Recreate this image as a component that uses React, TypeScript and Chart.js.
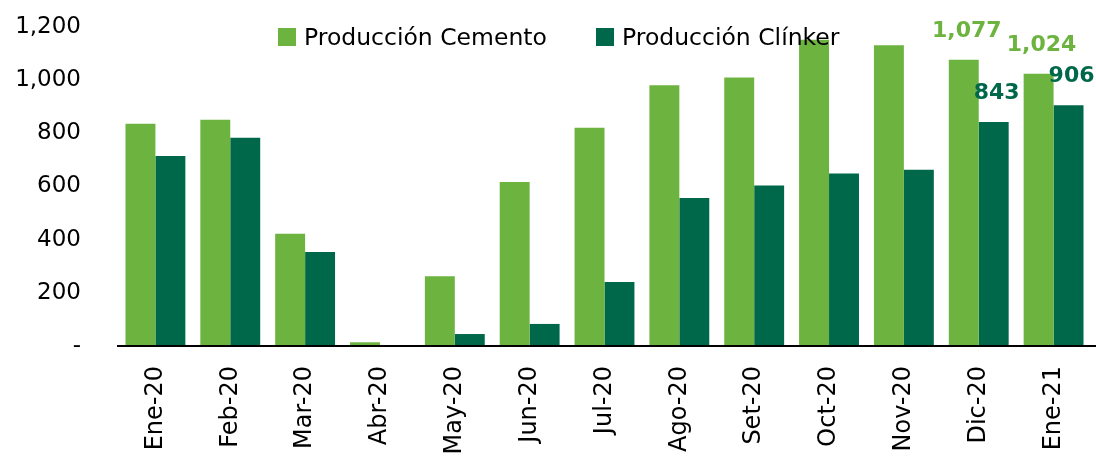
import React, { useEffect, useRef } from "react";
import { Chart, registerables } from "chart.js";

Chart.register(...registerables);

const categories = ["Ene-20", "Feb-20", "Mar-20", "Abr-20", "May-20", "Jun-20", "Jul-20", "Ago-20", "Set-20", "Oct-20", "Nov-20", "Dic-20", "Ene-21"];
const cemento = [836, 851, 422, 14, 262, 617, 821, 981, 1010, 1152, 1131, 1077, 1024];
const clinker = [715, 783, 354, 0, 45, 83, 241, 557, 604, 649, 663, 843, 906];
const labeledIndices = [11, 12];
const seriesNames = ["Producción Cemento", "Producción Clínker"];
const seriesColors = ["#6DB33F", "#00684A"];
const yTicks = [0, 200, 400, 600, 800, 1000, 1200];

const FONT = "'DejaVu Sans', sans-serif";

const fmt = (v: number) => (v === 0 ? "-" : v.toLocaleString("en-US"));

const overlayPlugin = {
  id: "overlay",
  afterDatasetsDraw(chart: any) {
    const { ctx, chartArea } = chart;
    ctx.save();
    // axis line
    ctx.strokeStyle = "#000000";
    ctx.lineWidth = 2;
    ctx.beginPath();
    ctx.moveTo(chartArea.left - 1, chartArea.bottom);
    ctx.lineTo(chart.width, chartArea.bottom);
    ctx.stroke();

    // legend
    const legendX = [278, 596];
    ctx.font = `23.5px ${FONT}`;
    ctx.textBaseline = "alphabetic";
    ctx.textAlign = "left";
    chart.data.datasets.forEach((ds: any, i: number) => {
      ctx.fillStyle = ds.backgroundColor;
      ctx.fillRect(legendX[i], 28, 18, 18);
      ctx.fillStyle = "#000000";
      ctx.fillText(ds.label, legendX[i] + 26, 45);
    });

    // data labels
    ctx.font = `bold 22px ${FONT}`;
    ctx.textAlign = "center";
    chart.data.datasets.forEach((ds: any, i: number) => {
      const meta = chart.getDatasetMeta(i);
      labeledIndices.forEach((idx) => {
        const el = meta.data[idx];
        if (!el) return;
        ctx.fillStyle = ds.backgroundColor;
        ctx.fillText(fmt(ds.data[idx]), el.x + 3, el.y - 23);
      });
    });
    ctx.restore();
  },
};

export default function App() {
  const ref = useRef<HTMLCanvasElement>(null);
  useEffect(() => {
    document.body.style.margin = "0";
    const canvas = ref.current!;
    const chart = new Chart(canvas, {
      type: "bar",
      data: {
        labels: categories,
        datasets: [
          { label: seriesNames[0], data: cemento, backgroundColor: seriesColors[0], categoryPercentage: 0.8, barPercentage: 1.0 },
          { label: seriesNames[1], data: clinker, backgroundColor: seriesColors[1], categoryPercentage: 0.8, barPercentage: 1.0 },
        ],
      },
      options: {
        responsive: false,
        animation: false,
        maintainAspectRatio: false,
        layout: { padding: { top: 27, right: 5, left: 0, bottom: 0 } },
        plugins: { legend: { display: false }, tooltip: { enabled: false } },
        scales: {
          x: {
            grid: { display: false, drawTicks: false },
            border: { display: false },
            ticks: {
              minRotation: 90,
              maxRotation: 90,
              padding: 20,
              color: "#000000",
              font: { family: FONT, size: 24 },
            },
            afterFit(scale: any) {
              scale.height = 111;
              scale.paddingLeft = 0;
              scale.paddingRight = 0;
            },
          },
          y: {
            min: 0,
            max: 1200,
            grid: { display: false, drawTicks: false },
            border: { display: false },
            afterBuildTicks(scale: any) {
              scale.ticks = yTicks.map((v) => ({ value: v }));
            },
            ticks: {
              padding: 37,
              color: "#000000",
              font: { family: FONT, size: 23 },
              callback: (v: any) => fmt(Number(v)),
            },
            afterFit(scale: any) {
              scale.width = 118;
              scale.paddingTop = 0;
              scale.paddingBottom = 0;
            },
          },
        },
      },
      plugins: [overlayPlugin],
    });
    return () => chart.destroy();
  }, []);
  return (
    <div style={{ width: 1096, height: 457 }}>
      <canvas ref={ref} width={1096} height={457} style={{ display: "block" }} />
    </div>
  );
}
